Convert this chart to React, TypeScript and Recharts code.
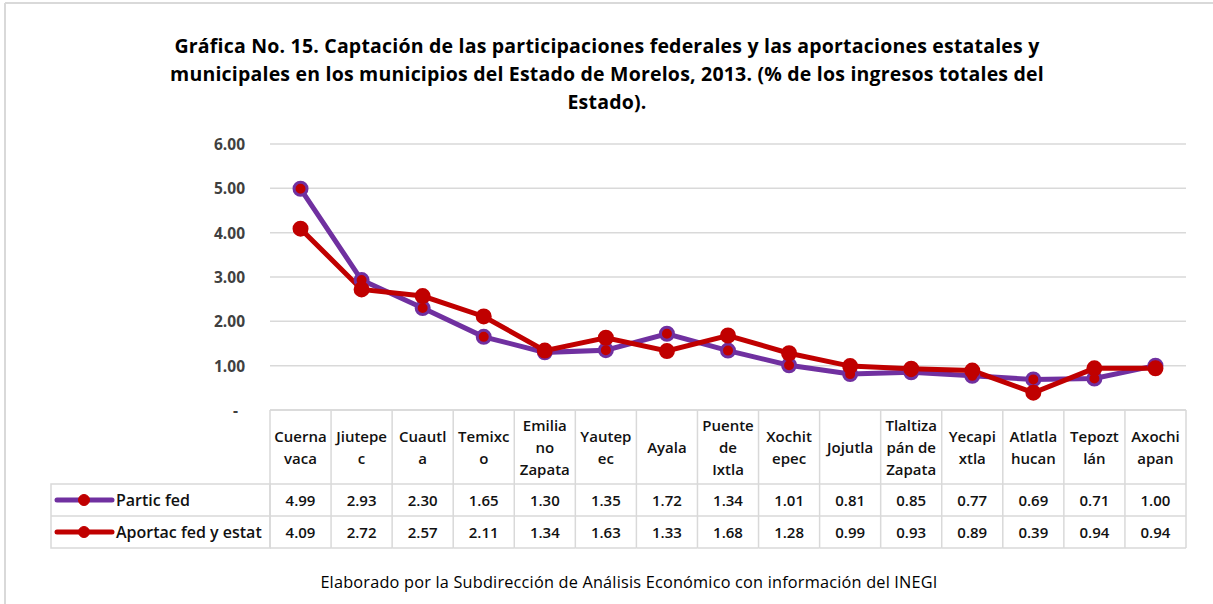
import { LineChart, Line, XAxis, YAxis, CartesianGrid } from 'recharts';

// categorías (con los saltos de línea del original)
const categories = [
  'Cuerna\nvaca', 'Jiutepe\nc', 'Cuautl\na', 'Temixc\no', 'Emilia\nno\nZapata',
  'Yautep\nec', 'Ayala', 'Puente\nde\nIxtla', 'Xochit\nepec', 'Jojutla',
  'Tlaltiza\npán de\nZapata', 'Yecapi\nxtla', 'Atlatla\nhucan', 'Tepozt\nlán', 'Axochi\napan',
];
const particFed = [4.99, 2.93, 2.30, 1.65, 1.30, 1.35, 1.72, 1.34, 1.01, 0.81, 0.85, 0.77, 0.69, 0.71, 1.00];
const aportacFedEstat = [4.09, 2.72, 2.57, 2.11, 1.34, 1.63, 1.33, 1.68, 1.28, 0.99, 0.93, 0.89, 0.39, 0.94, 0.94];
const seriesNames = ['Partic fed', 'Aportac fed y estat'];
const yTicks = [0, 1, 2, 3, 4, 5, 6];

const titleLines = [
  'Gráfica No. 15. Captación de las participaciones federales y las aportaciones estatales y',
  'municipales en los municipios del Estado de Morelos, 2013. (% de los ingresos totales del',
  'Estado).',
];
const footer = 'Elaborado por la Subdirección de Análisis Económico con información del INEGI';

const W = 1213;
const H = 604;
const PLOT_LEFT = 270;
const PLOT_RIGHT = 1186;
const PLOT_TOP = 144;
const TABLE_TOP = 410;
const ROW1 = 484;
const ROW2 = 516;
const TABLE_BOTTOM = 548;
const COL_W = (PLOT_RIGHT - PLOT_LEFT) / categories.length;

const PURPLE = '#7030A0';
const RED = '#C00000';
const GRID = '#D9D9D9';
const FONT = "'Open Sans', sans-serif";

const data = categories.map((name, i) => ({
  name,
  partic: particFed[i],
  aportac: aportacFedEstat[i],
}));

function YTick(props: any) {
  const { y, payload } = props;
  const v = payload.value as number;
  return (
    <text
      x={v === 0 ? 238 : 245}
      y={y}
      textAnchor="end"
      dominantBaseline="central"
      fontFamily={FONT}
      fontWeight="bold"
      fontSize={15.5}
      fill="#404040"
    >
      {v === 0 ? '-' : v.toFixed(2)}
    </text>
  );
}

function TableColumn(props: any) {
  const { x, payload } = props;
  const i = payload.index as number;
  const lines = String(payload.value).split('\n');
  const left = x - COL_W / 2;
  const right = x + COL_W / 2;
  const lh = 22;
  const mid = (TABLE_TOP + ROW1) / 2;
  const startY = mid - ((lines.length - 1) * lh) / 2;
  const txt = { fontFamily: FONT, fontSize: 15, fontWeight: 600, fill: '#111' };
  return (
    <g>
      {[TABLE_TOP, ROW1, ROW2, TABLE_BOTTOM].map((yy) => (
        <line key={yy} x1={left} x2={right} y1={yy} y2={yy} stroke={GRID} strokeWidth={1.5} />
      ))}
      <line x1={left} x2={left} y1={TABLE_TOP} y2={TABLE_BOTTOM} stroke={GRID} strokeWidth={1.5} />
      {i === categories.length - 1 && (
        <line x1={right} x2={right} y1={TABLE_TOP} y2={TABLE_BOTTOM} stroke={GRID} strokeWidth={1.5} />
      )}
      {lines.map((l, k) => (
        <text key={k} x={x} y={startY + k * lh} textAnchor="middle" dominantBaseline="central" {...txt}>
          {l}
        </text>
      ))}
      <text x={x} y={(ROW1 + ROW2) / 2} textAnchor="middle" dominantBaseline="central" {...txt}>
        {particFed[i].toFixed(2)}
      </text>
      <text x={x} y={(ROW2 + TABLE_BOTTOM) / 2} textAnchor="middle" dominantBaseline="central" {...txt}>
        {aportacFedEstat[i].toFixed(2)}
      </text>
    </g>
  );
}

export default function App() {
  const legendRows = [
    { name: seriesNames[0], line: PURPLE, y: (ROW1 + ROW2) / 2 },
    { name: seriesNames[1], line: RED, y: (ROW2 + TABLE_BOTTOM) / 2 },
  ];
  return (
    <div style={{ position: 'absolute', left: 0, top: 0, width: W, height: H, background: '#fff' }}>
      <LineChart
        width={W}
        height={H}
        data={data}
        margin={{ top: PLOT_TOP, right: W - PLOT_RIGHT, bottom: H - TABLE_BOTTOM, left: 0 }}
      >
        <CartesianGrid vertical={false} stroke={GRID} strokeWidth={1.5} />
        <XAxis
          dataKey="name"
          height={TABLE_BOTTOM - TABLE_TOP}
          interval={0}
          padding={{ left: COL_W / 2, right: COL_W / 2 }}
          axisLine={false}
          tickLine={false}
          tick={<TableColumn />}
        />
        <YAxis
          width={PLOT_LEFT}
          domain={[0, 6]}
          ticks={yTicks}
          axisLine={false}
          tickLine={false}
          tickMargin={0}
          tick={<YTick />}
        />
        <Line
          dataKey="partic"
          stroke={PURPLE}
          strokeWidth={5}
          dot={{ r: 6.5, fill: RED, stroke: PURPLE, strokeWidth: 3 }}
          isAnimationActive={false}
        />
        <Line
          dataKey="aportac"
          stroke={RED}
          strokeWidth={5}
          dot={{ r: 7, fill: RED, stroke: RED, strokeWidth: 2 }}
          isAnimationActive={false}
        />
      </LineChart>

      <svg
        width={W}
        height={H}
        style={{ position: 'absolute', left: 0, top: 0, pointerEvents: 'none' }}
      >
        {/* marco */}
        <line x1={5} x2={W} y1={3} y2={3} stroke={GRID} strokeWidth={2} />
        <line x1={5} x2={5} y1={3} y2={H} stroke={GRID} strokeWidth={2} />

        {titleLines.map((t, k) => (
          <text
            key={k}
            x={607}
            y={45 + k * 28}
            textAnchor="middle"
            dominantBaseline="central"
            fontFamily={FONT}
            fontWeight="bold"
            fontSize={19.5}
            letterSpacing={0.2}
            fill="#000"
          >
            {t}
          </text>
        ))}

        {/* cabecera de filas con la leyenda */}
        <rect x={51} y={ROW1} width={PLOT_LEFT - 51} height={TABLE_BOTTOM - ROW1} fill="none" stroke={GRID} strokeWidth={1.5} />
        <line x1={51} x2={PLOT_LEFT} y1={ROW2} y2={ROW2} stroke={GRID} strokeWidth={1.5} />
        {legendRows.map((r) => (
          <g key={r.name}>
            <line x1={57} x2={112} y1={r.y} y2={r.y} stroke={r.line} strokeWidth={5} strokeLinecap="round" />
            <circle cx={84} cy={r.y} r={5.5} fill={RED} stroke={RED} strokeWidth={1} />
            <text x={116} y={r.y} dominantBaseline="central" fontFamily={FONT} fontSize={16} fontWeight={600} fill="#111">
              {r.name}
            </text>
          </g>
        ))}

        <text
          x={629}
          y={582}
          textAnchor="middle"
          dominantBaseline="central"
          fontFamily={FONT}
          fontSize={16.3}
          letterSpacing={0.2}
          fill="#000"
        >
          {footer}
        </text>
      </svg>
    </div>
  );
}
